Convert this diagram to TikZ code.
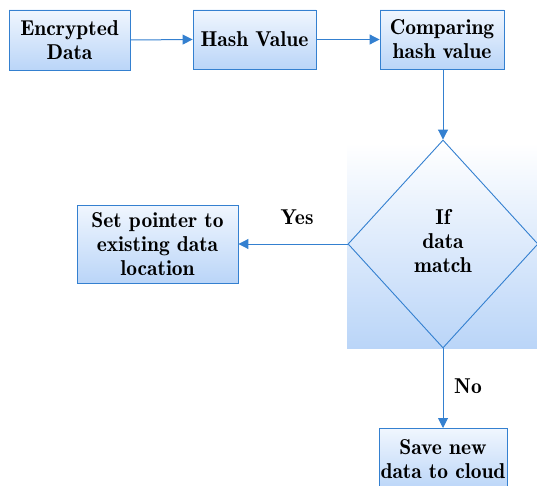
\documentclass[tikz,border=0pt]{standalone}
\usetikzlibrary{arrows.meta,shapes.geometric}
\definecolor{lineblue}{RGB}{52,128,208}
\definecolor{boxtop}{RGB}{240,246,254}
\definecolor{boxbot}{RGB}{186,213,248}
\begin{document}
\begin{tikzpicture}[x=1pt,y=-1pt,
  every node/.style={font=\fontseries{b}\fontsize{21.5}{24}\selectfont, text=black},
  procbox/.style={draw=lineblue, line width=0.9pt, top color=boxtop, bottom color=boxbot, align=center, inner sep=0pt},
  conn/.style={draw=lineblue, line width=1pt, -{Triangle[length=10pt,width=10pt]}},
  lbl/.style={inner sep=0pt}]
\useasboundingbox (0,0) rectangle (537,486);
\begin{scope}
\clip (0,0) rectangle (537,486);
\shade[top color=white, bottom color=boxbot] (347,143) rectangle (537,348);
\node[procbox, minimum width=121pt, minimum height=60pt] (enc) at (69.5,40) {Encrypted\\Data};
\node[procbox, minimum width=123pt, minimum height=59pt] (hash) at (254.5,39.5) {Hash Value};
\node[procbox, minimum width=124pt, minimum height=59pt] (cmp) at (442,39.5) {Comparing\\hash value};
\node[draw=lineblue, line width=0.9pt, shape=diamond, minimum width=190pt, minimum height=208pt, inner sep=0pt, align=center] (dec) at (443,244) {\raisebox{8pt}{\begin{tabular}{@{}c@{}}If\\data\\match\end{tabular}}};
\node[procbox, minimum width=161pt, minimum height=78pt] (ptr) at (157.5,244) {Set pointer to\\existing data\\location};
\node[procbox, minimum width=128pt, minimum height=62pt, anchor=north] (save) at (443,428) {Save new\\data to cloud};
\end{scope}
\draw[conn] (enc.east) -- (hash.west);
\draw[conn] (hash.east) -- (cmp.west);
\draw[conn] (cmp.south -| dec.north) -- (dec.north);
\draw[conn] (dec.west) -- (ptr.east);
\draw[conn] (dec.south) -- (save.north);
\node[lbl] (yes) at (297,217) {Yes};
\node[lbl] (no) at (468,386) {No};
\end{tikzpicture}
\end{document}
